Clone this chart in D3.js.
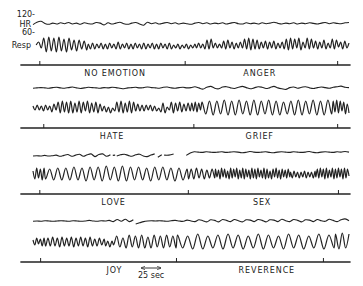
<!DOCTYPE html>
<html>
<head>
<meta charset="utf-8">
<script src="https://cdnjs.cloudflare.com/ajax/libs/d3/7.8.5/d3.min.js"></script>
<style>
    body { margin: 0; background: #fff; }
    svg { display: block; }
    text { font-family: "DejaVu Sans", sans-serif; fill: #222; }
</style>
</head>
<body>
<div id="chart"></div>
<script>
// time in seconds across each strip (0-400), HR in beats/min, Resp in pen deflection
// each trace: [tStart, tEnd, values] pieces, null = pen lifted

var hr1 = [
    [0, 400, [88,96,99,92,89,93,90,94,91,95,90,93,89,94,91,90,95,93,87,94,90,93,96,91,89,93,95,90,86,96,91,94,90,93,95,91,94,90,93,91,89,93,95,91,94,90,93,91,94,90,93,95,91,90,94,91,93,90,94,91,93,96,92,90,93,91,94,90,93,91,94,92,90,93,95,91,94,92,91,94,95]]
];
var resp1 = [
    [4, 68, [0,3,-3,7,-7,8,-6,7,-7,8,-6,6,-7,7,-5,5,-6,5,-4,4,-5]],
    [70, 205, [1,-4,2,-4,1,-3,2,-4,1,-4,2,-3,1,-4,3,-4,1,-3,2,-4,1,-4,2,-3,1,-4,2,-4,1,-3,2,-4,1,-4,2,-3,1,-4,2,-4,0,-3,1,-4,0,-3,1,-4,0,-3,1]],
    [207, 400, [-3,2,-3,1,-4,5,-4,6,-3,2,-3,1,-3,4,-4,5,-3,3,-4,2,-3,3,-3,6,-4,7,-5,6,-4,5,-4,3,-3,4,-4,3,-3,4,-4,2,-3,3,-4,6,-5,7,-4,6,-3,7,-5,3,-3,7,-4,6,-3,4,-4,3,-3,5,-4,2,-3,6,-4,5,-2,3,-4,4,-3,2]]
];
var marks1 = [8, 192, 385];
var labels1 = ['NO EMOTION', 'ANGER'];
var labelT1 = [104, 287];

var hr2 = [
    [0, 400, [86,87,88,87,86,88,89,87,86,88,90,87,85,87,89,88,87,86,88,87,89,88,86,84,87,88,89,87,88,90,88,87,86,89,90,87,86,88,89,87,88,91,87,83,89,92,86,84,90,91,87,85,89,92,88,84,87,91,89,85,88,92,87,84,82,88,90,86,89,91,87,85,88,90,88,86,89,91,93,89,88]]
];
var resp2 = [
    [0, 199, [2,-2,3,-2,2,-3,3,-2,2,-4,4,-2,6,-5,7,-4,6,-5,7,-5,5,-4,7,-5,6,-3,7,-5,5,-4,6,-5,4,-3,2,-4,1,-5,0,-3,6,-4,7,-5,5,-4,7,-5,6,-3,4,-3,3,-3,3,-2,3,-3,2,-3,0,-4,5,-5,1,-2,6,-5,5,-3,6,-4,4,-3,5,-3]],
    [201, 212, [5,-3,6,-4,5,-2]],
    [214, 378, [6,-6,7,-7,7,-6,8,-7,7,-7,8,-6,7,-7,8,-7,7,-6,8,-7,7,-7,6,-6,7,-7,8,-7,7,-6,8,-7,7,-7,8,-6]],
    [380, 400, [7,-4,8,-5,7,-3,6,-6,4,-5]]
];
var marks2 = [13, 203, 385];
var labels2 = ['HATE', 'GRIEF'];
var labelT2 = [100, 287];

var hr3 = [
    [0, 98, [80,81,80,82,80,81,83,79,82,85,79,83,86,79,84,87,78,85,87,79,84]],
    null,
    [101, 104, [82,83]],
    null,
    [106, 154, [80,84,86,82,79,84,86,80,78,83,87]],
    null,
    [158, 163, [76,84]],
    null,
    [166, 178, [83,83,87]],
    null,
    [194, 400, [82,90,94,93,92,94,93,92,93,94,92,93,94,93,91,92,95,93,92,93,94,92,91,93,94,93,92,94,93,92,93,95,92,91,93,94,93,92,94,93,95,93]]
];
var resp3 = [
    [0, 14, [3,-5,6,-4,5,-6,6]],
    [16, 195, [-5,5,-6,6,-6,6,-6,7,-6,6,-7,7,-6,7,-7,8,-6,7,-7,8,-7,7,-6,7,-6,6,-7,7,-6,7,-6,6,-7,6,-6,5]],
    [197, 230, [-5,5,-5,6,-4,5,-5,4,-4,5,-4]],
    [231, 325, [5,-3,4,-5,6,-3,5,-4,3,-5,6,-4,5,-3,6,-5,4,-4,6,-5,5,-3,4,-5,6,-4,5,-5,6,-3,4,-4,6,-5,5,-4,3,-5,5,-3,6,-4,4,-5,5,-3,4,-4,5,-3]],
    [326, 357, [2,-4,3,-3,2,-4,2,-3,3,-4,2,-3,2,-4,3]],
    [358, 400, [-3,5,-4,6,-3,5,-5,6,-4,4,-3,6,-5,5,-4,6,-3,5,-5,6,-4,5,-2]]
];
var marks3 = [8, 196, 386];
var labels3 = ['LOVE', 'SEX'];
var labelT3 = [102, 290];

var hr4 = [
    [0, 127, [89,90,89,91,90,89,90,91,90,89,91,90,89,90,92,90,89,91,90,92,88,95,89,96,88,94]],
    null,
    [130, 400, [80,84,88,90,91,90,91,90,89,91,92,90,89,93,90,88,94,91,87,94,92,87,95,92,88,95,91,87,94,93,88,95,92,87,94,93,88,96,91,88,95,92,87,94,93,88,95,91,89,96,92,88,94,97,91]]
];
var resp4 = [
    [0, 14, [2,-3,4,-2,3,-4,4]],
    [16, 90, [-4,4,-4,5,-4,4,-5,5,-4,4,-4,5,-5,4,-4,5,-4,4,-5,5,-4,3,-4,4,-3,3]],
    [92, 100, [-4,1,-5,1]],
    [102, 181, [-3,6,-5,4,-6,7,-5,6,-6,7,-6,5,-6,7,-5,6,-6,7,-5,6,-6]],
    [183, 381, [7,-6,6,-7,8,-7,6,-6,7,-7,8,-6,7,-7,6,-6,8,-7,7,-6,6,-7,8,-6,7,-7,6,-6,8,-7,7,-6]],
    [383, 400, [8,-7,9,-6,8]]
];
var marks4 = [9, 181, 367];
var labels4 = ['JOY', 'REVERENCE'];
var labelT4 = [103, 296];

var hrTicks = [120, 60];
var scaleBar = [137, 162];   // 25 sec

var width = 363, height = 286;
var ink = '#222';

var svg = d3.select('#chart').append('svg')
    .attr('width', width)
    .attr('height', height);

svg.append('defs').append('marker')
    .attr('id', 'head')
    .attr('viewBox', '0 0 10 10')
    .attr('refX', 9).attr('refY', 5)
    .attr('markerWidth', 5).attr('markerHeight', 5)
    .attr('orient', 'auto-start-reverse')
    .append('path')
    .attr('d', 'M0,1L10,5L0,9')
    .attr('fill', 'none')
    .attr('stroke', ink)
    .attr('stroke-width', 1.5);

var x = d3.scaleLinear().domain([0, 400]).range([33, 349]);

var panels = [
    {axisY: 65, hr: hr1, resp: resp1, marks: marks1, labels: labels1, labelT: labelT1},
    {axisY: 128, hr: hr2, resp: resp2, marks: marks2, labels: labels2, labelT: labelT2},
    {axisY: 194, hr: hr3, resp: resp3, marks: marks3, labels: labels3, labelT: labelT3},
    {axisY: 262, hr: hr4, resp: resp4, marks: marks4, labels: labels4, labelT: labelT4}
];

function tracePoints(trace) {
    var pts = [];
    trace.forEach(function (seg) {
        if (seg === null) {
            pts.push(null);
            return;
        }
        var t0 = seg[0], t1 = seg[1], vals = seg[2];
        var step = vals.length > 1 ? (t1 - t0) / (vals.length - 1) : 0;
        vals.forEach(function (v, i) {
            pts.push({t: t0 + i * step, v: v});
        });
    });
    return pts;
}

panels.forEach(function (p, k) {
    var g = svg.append('g');
    var yHr = d3.scaleLinear().domain([60, 120]).range([p.axisY - 32, p.axisY - 50]);
    var yResp = d3.scaleLinear().domain([-10, 10]).range([p.axisY - 10, p.axisY - 30]);

    var hrLine = d3.line()
        .defined(function (d) { return d !== null; })
        .x(function (d) { return x(d.t); })
        .y(function (d) { return yHr(d.v); })
        .curve(d3.curveCatmullRom.alpha(0.5));
    var respLine = d3.line()
        .defined(function (d) { return d !== null; })
        .x(function (d) { return x(d.t); })
        .y(function (d) { return yResp(d.v); })
        .curve(d3.curveCatmullRom.alpha(0.5));

    g.append('path')
        .attr('d', hrLine(tracePoints(p.hr)))
        .attr('fill', 'none')
        .attr('stroke', ink)
        .attr('stroke-width', 1.1)
        .attr('stroke-linejoin', 'round');

    g.append('path')
        .attr('d', respLine(tracePoints(p.resp)))
        .attr('fill', 'none')
        .attr('stroke', ink)
        .attr('stroke-width', 1.2)
        .attr('stroke-linejoin', 'round');

    // event line with stimulus marks
    g.append('line')
        .attr('x1', x(-16)).attr('x2', x(402))
        .attr('y1', p.axisY).attr('y2', p.axisY)
        .attr('stroke', ink)
        .attr('stroke-width', 1.3);
    g.append('g')
        .attr('transform', 'translate(0,' + p.axisY + ')')
        .style('color', ink)
        .call(d3.axisTop(x).tickValues(p.marks).tickSize(4).tickFormat(''))
        .call(function (a) { a.select('.domain').remove(); });

    g.selectAll('text.emo')
        .data(p.labels)
        .enter().append('text')
        .attr('class', 'emo')
        .attr('x', function (d, i) { return x(p.labelT[i]); })
        .attr('y', p.axisY + 10.5)
        .attr('text-anchor', 'middle')
        .attr('font-size', 8)
        .attr('letter-spacing', 0.9)
        .text(function (d) { return d; });

    if (k === 0) {
        g.selectAll('text.tk')
            .data(hrTicks)
            .enter().append('text')
            .attr('class', 'tk')
            .attr('x', 35)
            .attr('y', function (d) { return yHr(d); })
            .attr('dy', '0.3em')
            .attr('text-anchor', 'end')
            .attr('font-size', 8)
            .text(function (d) { return d + '-'; });
        g.append('text')
            .attr('x', 31).attr('y', yHr(90)).attr('dy', '0.35em')
            .attr('text-anchor', 'end').attr('font-size', 8)
            .text('HR');
        g.append('text')
            .attr('x', 31).attr('y', yResp(0)).attr('dy', '0.35em')
            .attr('text-anchor', 'end').attr('font-size', 8)
            .text('Resp');
    }

    if (k === 3) {
        g.append('line')
            .attr('x1', x(scaleBar[0])).attr('x2', x(scaleBar[1]))
            .attr('y1', p.axisY + 6).attr('y2', p.axisY + 6)
            .attr('stroke', ink)
            .attr('stroke-width', 0.9)
            .attr('marker-start', 'url(#head)')
            .attr('marker-end', 'url(#head)');
        g.append('text')
            .attr('x', x((scaleBar[0] + scaleBar[1]) / 2))
            .attr('y', p.axisY + 16)
            .attr('text-anchor', 'middle')
            .attr('font-size', 8)
            .text('25 sec');
    }
});
</script>
</body>
</html>
